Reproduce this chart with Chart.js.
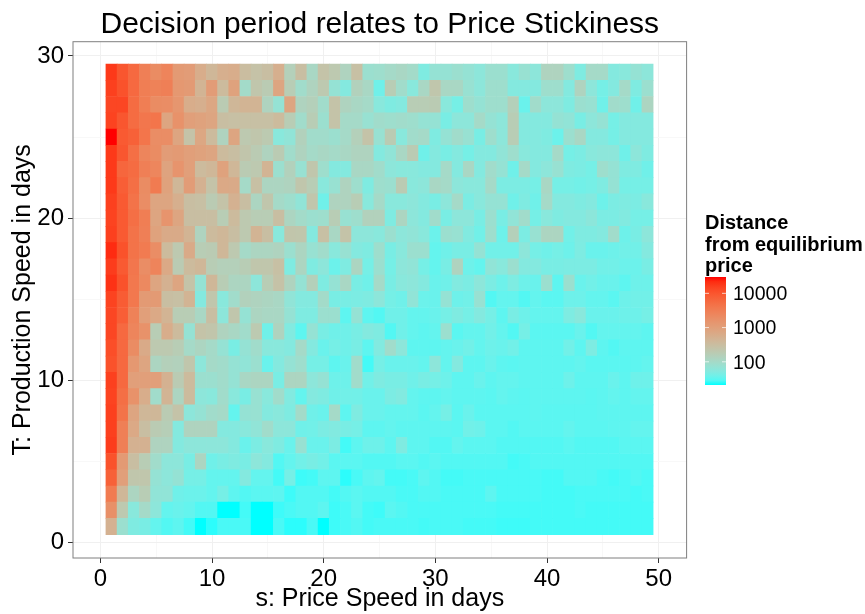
<!DOCTYPE html>
<html>
<head>
<meta charset="utf-8">
<title>Decision period relates to Price Stickiness</title>
<script src="https://cdn.jsdelivr.net/npm/chart.js@4/dist/chart.umd.js"></script>
<style>
  html, body { margin: 0; padding: 0; background: #fff; }
  #wrap { position: relative; width: 865px; height: 614px; }
</style>
</head>
<body>
<div id="wrap"><canvas id="chart" width="865" height="614"></canvas></div>
<script>
const sDays = [1,2,3,4,5,6,7,8,9,10,11,12,13,14,15,16,17,18,19,20,21,22,23,24,25,26,27,28,29,30,31,32,33,34,35,36,37,38,39,40,41,42,43,44,45,46,47,48,49];
const xTicks = [0, 10, 20, 30, 40, 50];
const yTicks = [0, 10, 20, 30];
const legendTicks = [10000, 1000, 100];

// distance from equilibrium price, one list per T, columns are s = 1..49
const t29 = [18000,10000,6000,3000,2000,2600,1200,1100,600,400,550,600,320,260,300,550,150,300,110,250,200,130,280,80,85,100,110,95,48,70,70,80,70,60,80,80,56,75,60,130,130,85,48,100,100,52,56,70,60];
const t28 = [16000,11000,6000,3200,2800,3000,1300,1200,450,1100,350,900,95,220,180,800,170,90,130,200,70,52,140,110,39,170,90,56,110,220,110,110,75,60,85,85,52,52,52,85,85,52,130,60,42,52,100,48,80];
const t27 = [14000,14000,5500,3200,2000,1900,1400,600,550,750,180,400,450,450,130,70,800,130,150,90,250,130,110,100,56,48,52,170,170,180,56,42,85,70,85,85,150,36,90,60,60,48,80,75,39,90,85,39,120];
const t26 = [15000,10000,5500,4000,4200,800,1600,1000,900,800,300,280,280,280,280,350,170,90,170,80,250,100,100,75,90,85,90,85,70,70,44,60,60,100,70,60,170,52,52,52,70,65,44,60,70,42,52,52,52];
const t25 = [30000,9000,7500,4200,1900,1900,800,250,750,350,130,800,200,220,190,56,65,140,90,90,80,100,150,250,75,180,56,90,100,48,70,90,75,44,85,60,170,52,52,48,37,80,110,52,52,42,52,52,52];
const t24 = [18000,10000,5000,2500,2000,1100,1200,1000,900,800,350,300,230,180,130,180,90,130,100,110,100,110,130,130,52,65,110,180,39,52,44,52,42,52,52,65,85,56,52,52,100,42,46,56,60,60,39,60,48];
const t23 = [18000,6500,5500,3000,2400,850,1500,1000,350,400,900,400,180,200,450,80,140,75,220,85,52,52,110,110,90,60,56,56,52,52,100,52,110,52,90,70,39,100,52,60,75,48,46,42,85,70,48,48,39];
const t22 = [18000,8000,5000,2000,3500,900,400,1100,500,250,700,650,100,280,120,120,130,220,170,56,75,130,85,48,85,80,180,56,60,110,100,60,56,56,100,46,46,46,42,110,42,42,40,42,48,70,42,42,42];
const t21 = [16000,9000,4500,1900,800,800,550,300,280,180,250,500,300,120,220,100,85,65,220,39,130,130,170,56,100,56,56,60,52,44,60,100,46,56,70,70,39,48,39,100,52,52,48,52,38,46,48,46,56];
const t20 = [15000,9000,5000,3200,800,1500,800,300,300,300,170,350,200,170,170,300,120,95,80,85,170,75,85,140,140,48,120,60,52,90,44,60,60,44,80,44,65,90,42,56,48,52,52,59,46,46,50,42,42];
const t19 = [16000,9000,4500,3000,900,650,650,450,130,350,400,300,200,450,300,56,230,220,52,280,110,250,60,60,56,80,60,65,56,37,80,75,50,40,85,38,150,46,75,120,120,40,48,48,52,90,38,44,60];
const t18 = [22000,11000,4500,3500,1900,350,200,650,170,180,400,200,100,120,120,130,80,120,75,90,56,75,52,48,85,44,56,80,80,34,39,44,44,70,40,40,40,60,42,39,42,38,47,36,36,38,40,40,52];
const t17 = [17000,9000,4000,1900,2600,700,180,350,400,170,150,150,170,220,220,280,48,120,48,60,37,48,120,42,80,42,60,65,42,34,44,130,38,34,65,56,80,52,52,44,44,46,46,46,40,40,37,37,44];
const t16 = [20000,11000,3800,2200,800,500,800,250,70,400,170,120,120,60,170,260,130,70,150,48,70,110,44,39,100,44,56,60,52,36,39,50,46,60,46,38,47,38,36,80,32,80,36,40,36,36,32,38,38];
const t15 = [15000,8500,3800,1200,1200,300,280,450,52,220,56,90,140,130,120,110,65,52,52,95,44,44,46,48,60,42,39,65,37,36,70,38,40,75,29,34,34,29,34,31,31,38,38,34,34,31,38,40,40];
const t14 = [14000,8000,2800,1000,700,450,170,170,110,300,60,220,70,120,110,110,70,48,48,80,80,32,70,32,29,39,39,34,34,36,42,48,42,52,42,32,44,38,34,34,34,47,56,36,36,36,38,38,42];
const t13 = [14000,6000,2500,1600,170,600,350,70,250,230,130,110,90,190,39,130,50,32,70,44,39,39,44,52,48,29,39,34,32,34,80,31,34,34,40,34,29,42,31,31,31,31,36,29,34,34,34,34,32];
const t12 = [12000,6000,2000,650,200,200,170,100,120,100,70,44,70,90,56,56,52,100,52,36,42,39,44,32,50,90,60,32,32,32,34,36,40,34,38,36,40,32,32,32,32,40,32,47,32,29,32,32,32];
const t11 = [11000,6000,1300,800,120,150,140,220,60,100,90,70,65,80,36,52,70,85,42,42,32,36,90,26,42,36,36,36,34,60,34,52,32,32,36,32,31,32,32,32,32,32,34,31,31,31,31,32,34];
const t10 = [16000,6000,1000,1000,1000,500,180,350,80,80,90,70,110,120,120,44,120,120,60,70,38,38,90,40,48,44,44,39,44,42,38,32,32,36,32,34,34,32,32,32,32,38,32,32,32,36,32,38,38];
const t9 = [15000,5000,1600,600,90,450,120,350,60,56,90,56,44,75,56,90,50,34,52,48,39,40,40,36,36,46,50,34,32,32,34,32,32,32,31,34,32,31,32,32,32,32,32,31,32,34,32,34,34];
const t8 = [16000,4500,800,400,400,180,250,60,70,90,100,34,70,75,52,56,48,95,39,36,100,32,48,36,36,34,34,34,31,34,42,31,36,31,31,31,31,31,32,31,31,31,31,31,32,32,32,32,32];
const t7 = [16000,3000,700,300,180,160,52,130,130,130,52,52,56,65,90,60,60,39,40,46,50,44,42,32,32,34,32,32,32,32,32,31,40,38,31,31,29,31,31,31,31,34,31,31,31,32,32,34,34];
const t6 = [17000,3000,500,500,130,130,52,60,60,60,60,52,36,46,56,48,36,75,36,36,46,26,32,38,38,32,48,32,32,29,29,34,31,31,31,29,29,29,29,29,29,31,29,29,29,29,31,31,31];
const t5 = [11000,1200,300,170,90,60,60,44,120,39,44,48,44,60,52,29,34,40,44,40,31,31,31,29,29,29,31,31,29,31,29,29,29,29,29,29,26,27,29,29,29,29,29,29,29,29,29,29,29];
const t4 = [7500,1000,220,220,70,60,70,42,42,34,34,34,52,34,34,26,42,25,26,32,32,23,27,32,34,26,26,27,32,29,26,26,27,27,27,27,27,27,27,26,26,29,29,29,27,26,27,29,27];
const t3 = [3500,400,120,170,65,65,39,37,37,34,42,32,29,31,31,32,25,29,29,29,26,29,31,29,29,29,27,27,29,29,27,27,27,27,32,27,27,27,27,26,26,26,27,27,27,27,27,26,27];
const t2 = [1700,200,56,100,60,34,36,34,29,29,21,21,26,21,21,25,27,29,29,32,25,27,31,26,25,31,29,27,27,27,27,27,27,27,27,26,26,26,26,26,26,26,27,26,26,26,26,26,26];
const t1 = [500,80,48,44,34,29,32,26,21,23,27,27,27,21,21,27,23,23,27,21,25,27,29,26,27,27,27,27,26,27,27,27,26,26,26,25,25,25,26,26,26,26,26,26,26,26,26,26,26];

const tRows = [t1,t2,t3,t4,t5,t6,t7,t8,t9,t10,t11,t12,t13,t14,t15,t16,t17,t18,t19,t20,t21,t22,t23,t24,t25,t26,t27,t28,t29];
const minDistance = 21;
const maxDistance = 30000;

// cyan to red through Lab, same as the ggplot gradient
const labLow = [91.11, -48.09, -14.13];
const labHigh = [53.24, 80.09, 67.2];

function labToRgb(L, a, b) {
  const fy = (L + 16) / 116, fx = fy + a / 500, fz = fy - b / 200;
  const inv = (f) => (f > 0.2069 ? f * f * f : (f - 16 / 116) / 7.787);
  const X = 0.95047 * inv(fx), Y = inv(fy), Z = 1.08883 * inv(fz);
  const lin = [
    3.2406 * X - 1.5372 * Y - 0.4986 * Z,
    -0.9689 * X + 1.8758 * Y + 0.0415 * Z,
    0.0557 * X - 0.204 * Y + 1.057 * Z,
  ];
  const rgb = lin.map((c) => {
    const v = c <= 0.0031308 ? 12.92 * c : 1.055 * Math.pow(c, 1 / 2.4) - 0.055;
    return Math.round(Math.min(1, Math.max(0, v)) * 255);
  });
  return `rgb(${rgb[0]}, ${rgb[1]}, ${rgb[2]})`;
}

function fillFor(value) {
  const lo = Math.log10(minDistance), hi = Math.log10(maxDistance);
  const t = Math.min(1, Math.max(0, (Math.log10(value) - lo) / (hi - lo)));
  return labToRgb(
    labLow[0] + (labHigh[0] - labLow[0]) * t,
    labLow[1] + (labHigh[1] - labLow[1]) * t,
    labLow[2] + (labHigh[2] - labLow[2]) * t
  );
}

const datasets = tRows.map((row, i) => ({
  label: "T=" + (i + 1),
  data: row.map((v, j) => ({ x: sDays[j], y: [i + 0.5, i + 1.5] })),
  backgroundColor: row.map(fillFor),
  borderWidth: 0,
  grouped: false,
  barPercentage: 1,
  categoryPercentage: 1,
}));

// colour bar on the right and the panel border
const extras = {
  id: "extras",
  afterDraw(chart) {
    const ctx = chart.ctx;
    const area = chart.chartArea;
    ctx.save();

    ctx.strokeStyle = "#7f7f7f";
    ctx.lineWidth = 1;
    ctx.strokeRect(area.left, area.top, area.right - area.left, area.bottom - area.top);

    // legend
    const barLeft = 705, barW = 21, barTop = 277, barBottom = 385;
    const yFor = (v) =>
      barBottom - ((Math.log10(v) - Math.log10(minDistance)) / (Math.log10(maxDistance) - Math.log10(minDistance))) * (barBottom - barTop);
    const grad = ctx.createLinearGradient(0, barBottom, 0, barTop);
    for (let k = 0; k <= 24; k++) {
      const v = Math.pow(10, Math.log10(minDistance) + (k / 24) * (Math.log10(maxDistance) - Math.log10(minDistance)));
      grad.addColorStop(k / 24, fillFor(v));
    }
    ctx.fillStyle = grad;
    ctx.fillRect(barLeft, barTop, barW, barBottom - barTop);

    ctx.fillStyle = "#000";
    ctx.textBaseline = "middle";
    ctx.textAlign = "left";
    ctx.font = "bold 20px 'Liberation Sans', Arial, sans-serif";
    ctx.fillText("Distance", 705, 223);
    ctx.fillText("from equilibrium", 705, 245);
    ctx.fillText("price", 705, 266);

    ctx.font = "19.5px 'Liberation Sans', Arial, sans-serif";
    ctx.strokeStyle = "rgba(255,255,255,0.7)";
    ctx.lineWidth = 1;
    legendTicks.forEach((v) => {
      const y = yFor(v);
      ctx.beginPath();
      ctx.moveTo(barLeft, y);
      ctx.lineTo(barLeft + 4, y);
      ctx.moveTo(barLeft + barW - 4, y);
      ctx.lineTo(barLeft + barW, y);
      ctx.stroke();
      ctx.fillText(String(v), 733, y + 1.5);
    });
    ctx.restore();
  },
};

const gridColor = (ctx) => (ctx.tick && ctx.tick.value % 10 === 0 ? "#f0f0f0" : "#f8f8f8");
const tickMark = (ctx) => (ctx.tick && ctx.tick.value % 10 === 0 ? "#333333" : "rgba(0,0,0,0)");

new Chart(document.getElementById("chart"), {
  type: "bar",
  data: { datasets },
  plugins: [extras],
  options: {
    responsive: false,
    animation: false,
    layout: { padding: { left: 0, right: 178.4, top: 0, bottom: 0 } },
    plugins: {
      legend: { display: false },
      tooltip: { enabled: false },
      title: {
        display: true,
        text: "Decision period relates to Price Stickiness",
        fullSize: false,
        color: "#000",
        font: { family: "'Liberation Sans', Arial, sans-serif", size: 30, weight: "normal", lineHeight: 1 },
        padding: { top: 10, bottom: 1.7 },
      },
    },
    scales: {
      x: {
        type: "linear",
        min: -2.45,
        max: 52.5,
        offset: false,
        border: { display: false },
        grid: { offset: false, color: gridColor, tickColor: tickMark, tickLength: 5, lineWidth: 1 },
        ticks: {
          stepSize: 5,
          autoSkip: false,
          includeBounds: false,
          maxRotation: 0,
          padding: 2,
          color: "#000",
          font: { family: "'Liberation Sans', Arial, sans-serif", size: 24 },
          callback: (v) => (xTicks.includes(v) ? String(v) : ""),
        },
        title: {
          display: true,
          text: "s: Price Speed in days",
          color: "#000",
          font: { family: "'Liberation Sans', Arial, sans-serif", size: 25 },
          padding: { top: 0, bottom: 0 },
        },
        afterFit: (scale) => { scale.height = 56; },
      },
      y: {
        type: "linear",
        min: -0.94,
        max: 30.88,
        border: { display: false },
        grid: { color: gridColor, tickColor: tickMark, tickLength: 5, lineWidth: 1 },
        ticks: {
          stepSize: 5,
          autoSkip: false,
          includeBounds: false,
          padding: 4,
          color: "#000",
          font: { family: "'Liberation Sans', Arial, sans-serif", size: 24 },
          callback: (v) => (yTicks.includes(v) ? String(v) : ""),
        },
        title: {
          display: true,
          text: "T: Production Speed in days",
          color: "#000",
          font: { family: "'Liberation Sans', Arial, sans-serif", size: 25 },
          padding: { top: 8, bottom: 0 },
        },
        afterFit: (scale) => { scale.width = 73; },
      },
    },
  },
});
</script>
</body>
</html>
